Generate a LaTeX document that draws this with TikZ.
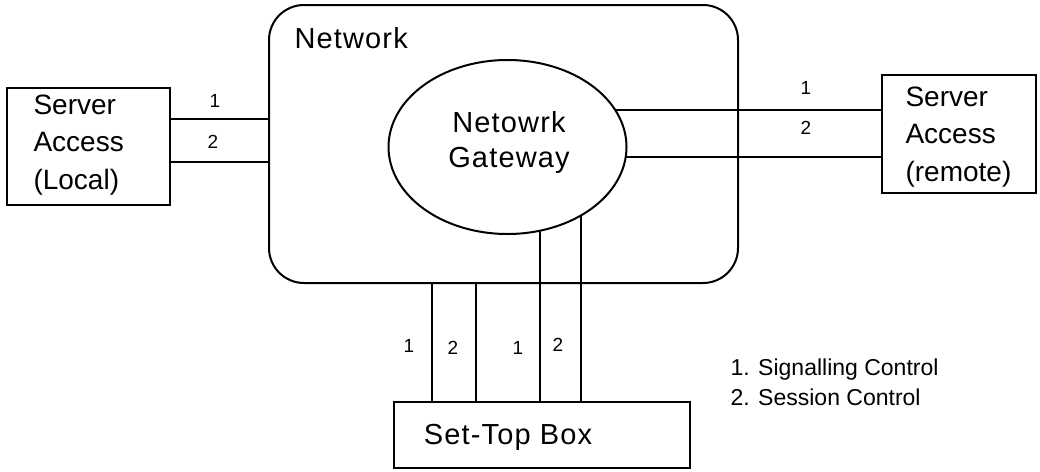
\documentclass[tikz,border=0pt]{standalone}
\usepackage{fontspec}
\setmainfont{Liberation Sans}
\newfontfamily\spaced[LetterSpace=4]{Liberation Sans}
\usetikzlibrary{shapes.geometric}
\begin{document}
\begin{tikzpicture}[x=1pt,y=-1pt,
  wire/.style={line width=2pt},
  box/.style={draw,line width=2pt,inner sep=0pt,outer sep=0pt},
  big/.style={font=\fontsize{28}{37.5}\selectfont},
  wide/.style={font=\spaced\fontsize{29}{35}\selectfont},
  num/.style={font=\fontsize{19}{22}\selectfont},
  leg/.style={font=\fontsize{23}{30}\selectfont}]
\useasboundingbox (0,0) rectangle (1040,471);
% network cloud box
\node[box,rounded corners=35pt,minimum width=469pt,minimum height=278pt] (net) at (503.5,144) {};
\node[wide,anchor=west] (netlbl) at (291,38) {Network};
% gateway ellipse
\node[box,ellipse,minimum width=238pt,minimum height=174pt] (gw) at (507.5,147) {};
\node[wide,align=center] (gwlbl) at (509,142) {Netowrk\\Gateway};
% local server
\node[box,minimum width=163pt,minimum height=117pt] (local) at (88.5,146.5) {};
\node[big,align=left,anchor=west] (loclbl) at (30,145) {Server\\Access\\(Local)};
% remote server
\node[box,minimum width=154pt,minimum height=118pt] (remote) at (959,134) {};
\node[big,align=left,anchor=west] (remlbl) at (902,137) {Server\\Access\\(remote)};
% set-top box
\node[box,minimum width=296pt,minimum height=66pt] (stb) at (542,435) {};
\node[wide] (stblbl) at (508,437) {Set-Top Box};
% coordinates
\coordinate (l1) at (0,119);
\coordinate (l2) at (0,162);
\coordinate (b1) at (432,0);
\coordinate (b2) at (476,0);
% local links
\draw[wire] (local.east |- l1) -- (net.west |- l1);
\draw[wire] (local.east |- l2) -- (net.west |- l2);
\node[num] (nl1) at (215,101) {1};
\node[num] (nl2) at (213,142) {2};
% remote links
\draw[wire] (gw.19.2) -- (remote.west |- gw.19.2);
\draw[wire] (gw.-5.9) -- (remote.west |- gw.-5.9);
\node[num] (nr1) at (806,88) {1};
\node[num] (nr2) at (806,128) {2};
% bottom links network
\draw[wire] (net.south -| b1) -- (stb.north -| b1);
\draw[wire] (net.south -| b2) -- (stb.north -| b2);
% bottom links gateway
\draw[wire] (gw.-69.7) -- (stb.north -| gw.-69.7);
\draw[wire] (gw.-43.8) -- (stb.north -| gw.-43.8);
\node[num] (nb1) at (409,346) {1};
\node[num] (nb2) at (453,348) {2};
\node[num] (nb3) at (518,348) {1};
\node[num] (nb4) at (558,345) {2};
% legend
\node[leg,align=left,anchor=west] (legend) at (727,382) {1. Signalling Control\\2. Session Control};
\end{tikzpicture}
\end{document}
